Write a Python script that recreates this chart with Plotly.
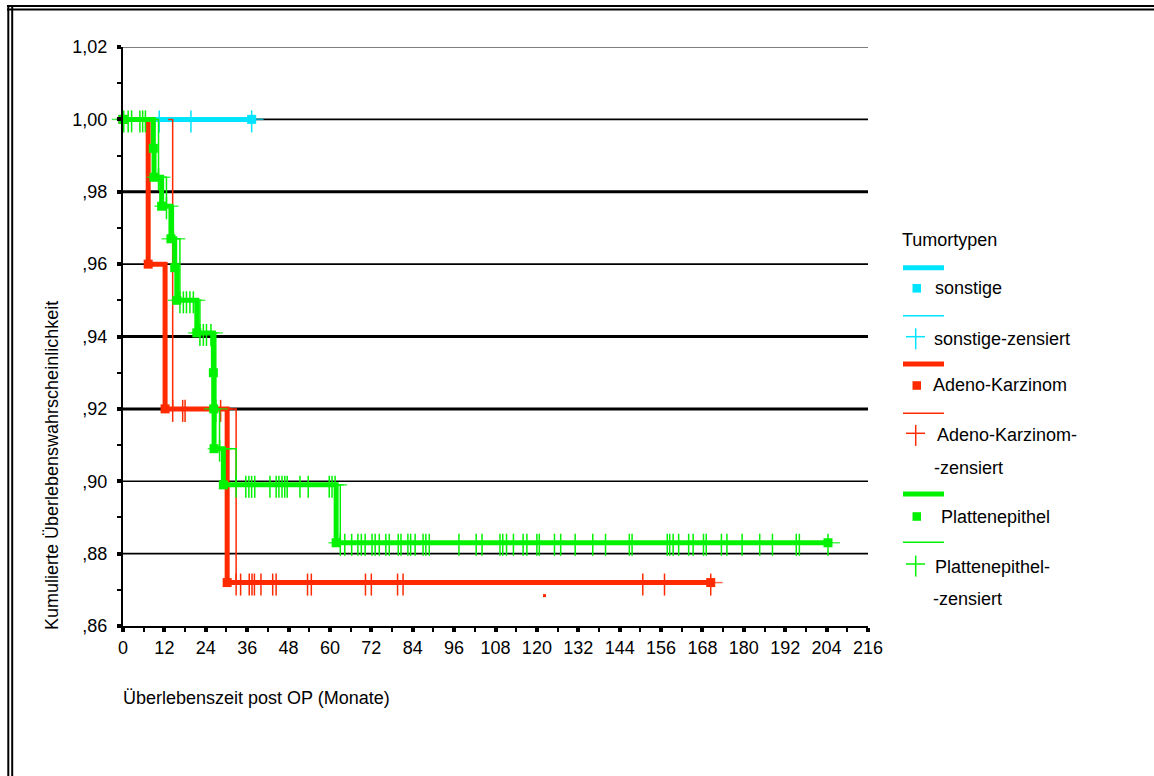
import plotly.graph_objects as go

# ---------------- data ----------------
x_tick_vals = [0, 12, 24, 36, 48, 60, 72, 84, 96, 108, 120, 132, 144, 156, 168, 180, 192, 204, 216]
y_tick_vals = [0.86, 0.88, 0.90, 0.92, 0.94, 0.96, 0.98, 1.00, 1.02]
y_tick_text = [",86", ",88", ",90", ",92", ",94", ",96", ",98", "1,00", "1,02"]

# sonstige
cyan_event_t = [0, 37.3]
cyan_event_s = [1.0, 1.0]
cyan_cens_t = [10.5, 19.7, 37.3]
cyan_cens_s = [1.0, 1.0, 1.0]

# Adeno-Karzinom
red_event_t = [0, 7.3, 12.2, 30.2, 170.4]
red_event_s = [1.0, 0.960, 0.920, 0.872, 0.872]
red_cens_t = [13.1, 14.4, 17.3, 18.0, 28.3, 32.8, 34.1, 36.6, 37.4, 38.1, 40.0, 43.4,
              44.4, 53.5, 54.6, 70.3, 72.0, 79.6, 81.2, 150.7, 157.0, 170.4]
red_cens_s = [1.0, 0.920, 0.920, 0.920, 0.920, 0.872, 0.872, 0.872, 0.872, 0.872, 0.872,
              0.872, 0.872, 0.872, 0.872, 0.872, 0.872, 0.872, 0.872, 0.872, 0.872, 0.872]
red_speck_t = [122.2]
red_speck_s = [0.8684]

# Plattenepithel
green_event_t = [0, 8.8, 9.0, 11.2, 13.9, 15.0, 15.6, 21.4, 26.2, 26.3, 26.4, 29.1, 61.8, 204.4]
green_event_s = [1.0, 0.992, 0.984, 0.976, 0.967, 0.959, 0.950, 0.941, 0.930, 0.920, 0.909,
                 0.899, 0.883, 0.883]
green_cens_levels = [1.0, 0.984, 0.976, 0.967, 0.950, 0.941, 0.920, 0.909, 0.899, 0.883]
green_cens_times = [
    [0.2, 1.5, 2.5, 4.9, 5.7, 6.5],
    [10.3],
    [12.6],
    [14.6],
    [16.5, 17.5, 18.4, 19.4, 20.4],
    [22.3, 23.3, 24.2, 25.5],
    [26.9],
    [28.0],
    [32.8, 35.6, 36.5, 37.3, 38.2, 42.6, 44.4, 45.2, 46.1, 46.9, 47.6, 51.3, 53.7, 59.8,
     60.6, 61.5],
    [63.0, 64.3, 66.3, 68.1, 69.1, 70.2, 72.2, 73.1, 74.3, 76.2, 77.2, 79.8, 80.6, 82.6,
     83.4, 84.7, 87.0, 87.8, 88.8, 97.4, 102.4, 104.1, 109.3, 110.1, 111.2, 113.2, 116.0,
     117.1, 120.0, 120.7, 125.1, 126.9, 131.1, 136.2, 139.9, 146.8, 147.6, 157.8, 158.5,
     159.5, 161.1, 164.0, 165.3, 168.3, 169.1, 173.5, 175.1, 179.5, 184.6, 188.3, 195.2,
     196.1, 204.4],
]
green_cens_t = [t for grp in green_cens_times for t in grp]
green_cens_s = [lvl for lvl, grp in zip(green_cens_levels, green_cens_times) for _ in grp]

legend_title = "Tumortypen"
legend_event_labels = ["sonstige", "Adeno-Karzinom", "Plattenepithel"]
legend_cens_labels = [["sonstige-zensiert"], ["Adeno-Karzinom-", "-zensiert"],
                      ["Plattenepithel-", "-zensiert"]]

# ---------------- style / layout ----------------
FIG_W, FIG_H = 1154, 776
L, R, T, B = 123, 868, 47, 626
X_MIN, X_MAX = 0, 216
Y_MIN, Y_MAX = 0.86, 1.02
FONT = "Liberation Sans, Arial, sans-serif"
FS = 18

CYAN = "#00e4ff"
RED = "#ff2a00"
GREEN = "#00f200"

PX_PER_Y = (B - T) / (Y_MAX - Y_MIN)
TICK_UP = 9 / PX_PER_Y
TICK_DOWN = 13 / PX_PER_Y


def px(x):
    return (x - L) / (R - L)


def py(y):
    return (B - y) / (B - T)


fig = go.Figure()


def add_group(et, es, ct, cs, color, hide_first=False):
    n = len(ct)
    sizes = [0 if (hide_first and i == 0) else 17 for i in range(n)]
    ups = [0 if (hide_first and i == 0) else TICK_UP for i in range(n)]
    downs = [0 if (hide_first and i == 0) else TICK_DOWN for i in range(n)]
    fig.add_trace(go.Scatter(
        x=et, y=es, mode="lines+markers", cliponaxis=False,
        line=dict(shape="hv", width=5, color=color),
        marker=dict(symbol="square", size=9, color=color),
        hoverinfo="skip"))
    fig.add_trace(go.Scatter(
        x=ct, y=cs, mode="lines+markers", cliponaxis=False,
        line=dict(shape="hv", width=1.5, color=color),
        marker=dict(symbol="line-ew", size=sizes, color=color,
                    line=dict(color=color, width=1.5)),
        error_y=dict(type="data", symmetric=False, array=ups, arrayminus=downs,
                     color=color, thickness=1.5, width=0),
        hoverinfo="skip"))


add_group(cyan_event_t, cyan_event_s, cyan_cens_t, cyan_cens_s, CYAN)
add_group(red_event_t, red_event_s, red_cens_t, red_cens_s, RED, hide_first=True)
fig.add_trace(go.Scatter(x=red_speck_t, y=red_speck_s, mode="markers",
                         marker=dict(symbol="square", size=3, color=RED), hoverinfo="skip"))
add_group(green_event_t, green_event_s, green_cens_t, green_cens_s, GREEN)

shapes = []
# grid lines with varying weight as in the reference
grid_levels = [0.88, 0.90, 0.92, 0.94, 0.96, 0.98, 1.00, 1.02]
grid_widths = [1.6, 1.6, 3, 3, 1.6, 3, 1.6, 1.2]
for lvl, w in zip(grid_levels, grid_widths):
    shapes.append(dict(type="line", xref="paper", yref="y", x0=0, x1=1, y0=lvl, y1=lvl,
                       layer="below", line=dict(color="black", width=w)))

# outer double frame
for xx in (8.3, 12.2):
    shapes.append(dict(type="line", xref="paper", yref="paper", x0=px(xx), x1=px(xx),
                       y0=py(5), y1=py(FIG_H + 5), line=dict(color="black", width=2)))
for yy in (6, 9.6):
    shapes.append(dict(type="line", xref="paper", yref="paper", x0=px(7), x1=px(FIG_W + 5),
                       y0=py(yy), y1=py(yy), line=dict(color="black", width=2)))

annotations = []


def text(x, y, s, xanchor="left", angle=0):
    annotations.append(dict(x=px(x), y=py(y), xref="paper", yref="paper", text=s,
                            showarrow=False, xanchor=xanchor, yanchor="middle",
                            textangle=angle,
                            font=dict(family=FONT, size=FS, color="black")))


# axis titles
text(52, 466, "Kumulierte Überlebenswahrscheinlichkeit", xanchor="center", angle=-90)
text(121, 698, "Überlebenszeit post OP (Monate)")

# legend (drawn like the SPSS legend: line sample above, marker + label below)
text(900, 240, legend_title)
legend_colors = [CYAN, RED, GREEN]
leg_thick_y = [267.7, 364, 494]
leg_square_y = [288.3, 385.5, 516.5]
leg_label_x = [933, 931, 939]
leg_thin_y = [315.7, 413.3, 542.3]
leg_plus_y = [336.7, 433.3, 564]
leg_cens_x = [[932], [935, 932], [933, 931]]
leg_cens_y = [[339], [435, 468], [566.5, 599]]

for i, c in enumerate(legend_colors):
    shapes.append(dict(type="line", xref="paper", yref="paper", x0=px(903), x1=px(944),
                       y0=py(leg_thick_y[i]), y1=py(leg_thick_y[i]),
                       line=dict(color=c, width=5)))
    shapes.append(dict(type="rect", xref="paper", yref="paper", x0=px(912.5), x1=px(921),
                       y0=py(leg_square_y[i] - 4.3), y1=py(leg_square_y[i] + 4.3),
                       fillcolor=c, line=dict(width=0)))
    text(leg_label_x[i], leg_square_y[i], legend_event_labels[i])
    shapes.append(dict(type="line", xref="paper", yref="paper", x0=px(903), x1=px(944),
                       y0=py(leg_thin_y[i]), y1=py(leg_thin_y[i]),
                       line=dict(color=c, width=1.5)))
    shapes.append(dict(type="line", xref="paper", yref="paper", x0=px(906), x1=px(925),
                       y0=py(leg_plus_y[i]), y1=py(leg_plus_y[i]),
                       line=dict(color=c, width=1.5)))
    shapes.append(dict(type="line", xref="paper", yref="paper", x0=px(915.7), x1=px(915.7),
                       y0=py(leg_plus_y[i] - 8.4), y1=py(leg_plus_y[i] + 12.6),
                       line=dict(color=c, width=1.5)))
    for s, xx, yy in zip(legend_cens_labels[i], leg_cens_x[i], leg_cens_y[i]):
        text(xx, yy, s)

fig.update_layout(
    width=FIG_W, height=FIG_H, autosize=False,
    margin=dict(l=L, r=FIG_W - R, t=T, b=FIG_H - B, pad=0),
    paper_bgcolor="white", plot_bgcolor="white",
    showlegend=False,
    font=dict(family=FONT, size=FS, color="black"),
    shapes=shapes, annotations=annotations,
    xaxis=dict(range=[X_MIN, X_MAX], tickmode="array", tickvals=x_tick_vals,
               ticktext=[str(v) for v in x_tick_vals],
               showgrid=False, zeroline=False, showline=True, linecolor="black", linewidth=2,
               ticks="outside", ticklen=4, tickwidth=4, tickcolor="black",
               ticklabelstandoff=0,
               minor=dict(tickmode="linear", tick0=0, dtick=6, ticks="outside", ticklen=4,
                          tickwidth=1.5, tickcolor="black", showgrid=False),
               tickfont=dict(family=FONT, size=FS, color="black")),
    yaxis=dict(range=[Y_MIN, Y_MAX], tickmode="array", tickvals=y_tick_vals,
               ticktext=y_tick_text,
               showgrid=False, zeroline=False, showline=True, linecolor="black", linewidth=2,
               ticks="outside", ticklen=4, tickwidth=4, tickcolor="black",
               ticklabelstandoff=6,
               minor=dict(tickmode="linear", tick0=0.86, dtick=0.01, ticks="outside",
                          ticklen=4, tickwidth=1.5, tickcolor="black", showgrid=False),
               tickfont=dict(family=FONT, size=FS, color="black")),
)

fig.write_html("out.html", config={"displayModeBar": False},
               post_script="document.body.style.margin='0px';document.body.style.overflow='hidden';")
